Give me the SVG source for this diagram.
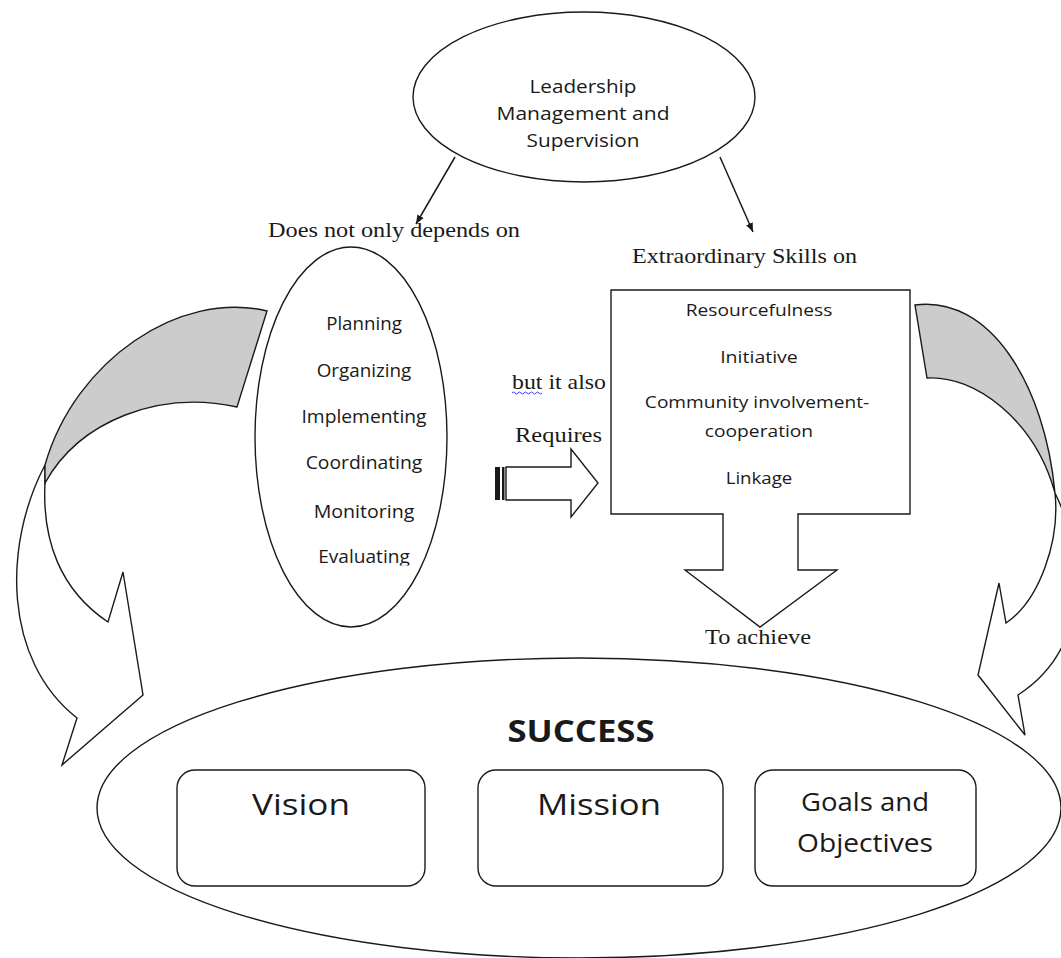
<svg xmlns="http://www.w3.org/2000/svg" width="1061" height="958" viewBox="0 0 1061 958">
<style>
.o{fill:#fff;stroke:#1a1a1a;stroke-width:1.4}
.g{fill:#cccccc;stroke:#1a1a1a;stroke-width:1.4}
.ln{fill:none;stroke:#1a1a1a;stroke-width:1.5}
.c{font-family:"Open Sans","Liberation Sans",sans-serif;fill:#1a1a1a;text-anchor:middle}
.t{font-family:"Liberation Serif","Times New Roman",serif;fill:#1a1a1a;font-size:22px}
</style>
<defs>
<marker id="ah" viewBox="0 0 10 10" refX="10" refY="5" markerWidth="9" markerHeight="9" markerUnits="userSpaceOnUse" orient="auto">
<path d="M0,1 L10,5 L0,9 Z" fill="#1a1a1a"/>
</marker>
<clipPath id="clipEval"><rect x="250" y="540" width="220" height="25.5"/></clipPath>
</defs>
<rect width="1061" height="958" fill="#fff"/>

<g id="connectors">
<line class="ln" x1="455" y1="157" x2="416" y2="224" marker-end="url(#ah)"/>
<line class="ln" x1="720" y1="157" x2="753" y2="232" marker-end="url(#ah)"/>
<g id="requires-arrow">
<path class="o" d="M506,467 H571 V449 L598,483 L571,517 V500 H506 Z"/>
<rect x="495" y="467" width="5" height="33" fill="#1a1a1a"/>
<rect x="502" y="467" width="2.5" height="33" fill="#1a1a1a"/>
</g>
<g id="left-curved-arrow">
<path class="o" d="M45,465 C3,545 3,660 77,718 L62,765 L143,695 L123,572 L108,622 C60,590 42,540 45,483 Z"/>
<path class="g" d="M267,311 C180,290 75,360 45,465 L45,483 C80,420 160,390 237,407 Z"/>
</g>
<g id="right-curved-arrow">
<path class="o" d="M1055,493 C1060,540 1040,600 1006,623 L999,583 L978,675 L1025,735 L1018,695 C1088,650 1088,560 1055,493 Z"/>
<path class="g" d="M915,305 C990,295 1045,385 1055,493 C1035,420 975,375 927,378 Z"/>
</g>
</g>

<g id="leadership">
<ellipse class="o" cx="584" cy="97" rx="171" ry="85"/>
<text class="c" font-size="19" x="583" y="93" textLength="107" lengthAdjust="spacingAndGlyphs">Leadership</text>
<text class="c" font-size="19" x="583" y="120" textLength="173" lengthAdjust="spacingAndGlyphs">Management and</text>
<text class="c" font-size="19" x="583" y="147" textLength="113" lengthAdjust="spacingAndGlyphs">Supervision</text>
</g>

<g id="label-depends">
<text class="t" x="268" y="237" textLength="252" lengthAdjust="spacingAndGlyphs">Does not only depends on</text>
</g>

<g id="label-extraordinary">
<text class="t" x="632" y="263" textLength="225" lengthAdjust="spacingAndGlyphs">Extraordinary Skills on</text>
</g>

<g id="functions">
<ellipse class="o" cx="351" cy="437" rx="96" ry="190"/>
<text class="c" font-size="18" x="364" y="330" textLength="75.7" lengthAdjust="spacingAndGlyphs">Planning</text>
<text class="c" font-size="18" x="364" y="376.7" textLength="94.7" lengthAdjust="spacingAndGlyphs">Organizing</text>
<text class="c" font-size="18" x="364" y="423.3" textLength="125" lengthAdjust="spacingAndGlyphs">Implementing</text>
<text class="c" font-size="18" x="364" y="469.3" textLength="116.7" lengthAdjust="spacingAndGlyphs">Coordinating</text>
<text class="c" font-size="18" x="364" y="518.3" textLength="100.7" lengthAdjust="spacingAndGlyphs">Monitoring</text>
<text class="c" font-size="18" x="364" y="563.3" textLength="91.7" lengthAdjust="spacingAndGlyphs" clip-path="url(#clipEval)">Evaluating</text>
</g>

<g id="label-but">
<text class="t" x="512" y="389" textLength="94" lengthAdjust="spacingAndGlyphs">but it also</text>
<path d="M512,393 q1.5,-2 3,0 t3,0 t3,0 t3,0 t3,0 t3,0 t3,0 t3,0 t3,0 t3,0" fill="none" stroke="#3b3bff" stroke-width="1"/>
<text class="t" x="515" y="442" textLength="87" lengthAdjust="spacingAndGlyphs">Requires</text>
</g>

<g id="skills">
<path class="o" d="M611,290 H910 V514 H798 V570 H837 L760,627 L685,570 H723 V514 H611 Z"/>
<text class="c" font-size="15.5" x="759" y="316" textLength="146.7" lengthAdjust="spacingAndGlyphs">Resourcefulness</text>
<text class="c" font-size="15.5" x="759" y="362.7" textLength="77.7" lengthAdjust="spacingAndGlyphs">Initiative</text>
<text class="c" font-size="15.5" x="757" y="408.3" textLength="224.3" lengthAdjust="spacingAndGlyphs">Community involvement-</text>
<text class="c" font-size="15.5" x="759" y="436.7" textLength="108.3" lengthAdjust="spacingAndGlyphs">cooperation</text>
<text class="c" font-size="15.5" x="759" y="484" textLength="66.7" lengthAdjust="spacingAndGlyphs">Linkage</text>
</g>

<g id="label-achieve">
<text class="t" x="705" y="644" textLength="106" lengthAdjust="spacingAndGlyphs">To achieve</text>
</g>

<g id="success">
<ellipse class="o" cx="579" cy="808" rx="482" ry="150"/>
<text class="c" font-size="30" font-weight="bold" x="581" y="742" textLength="147" lengthAdjust="spacingAndGlyphs">SUCCESS</text>
<g id="vision">
<rect class="o" x="177" y="770" width="248" height="116" rx="18"/>
<text class="c" font-size="30" x="301" y="815" textLength="98" lengthAdjust="spacingAndGlyphs">Vision</text>
</g>
<g id="mission">
<rect class="o" x="478" y="770" width="245" height="116" rx="18"/>
<text class="c" font-size="30" x="599" y="815" textLength="124" lengthAdjust="spacingAndGlyphs">Mission</text>
</g>
<g id="goals">
<rect class="o" x="755" y="770" width="221" height="116" rx="18"/>
<text class="c" font-size="25" x="865" y="811" textLength="128" lengthAdjust="spacingAndGlyphs">Goals and</text>
<text class="c" font-size="25" x="865" y="852" textLength="136" lengthAdjust="spacingAndGlyphs">Objectives</text>
</g>
</g>
</svg>
